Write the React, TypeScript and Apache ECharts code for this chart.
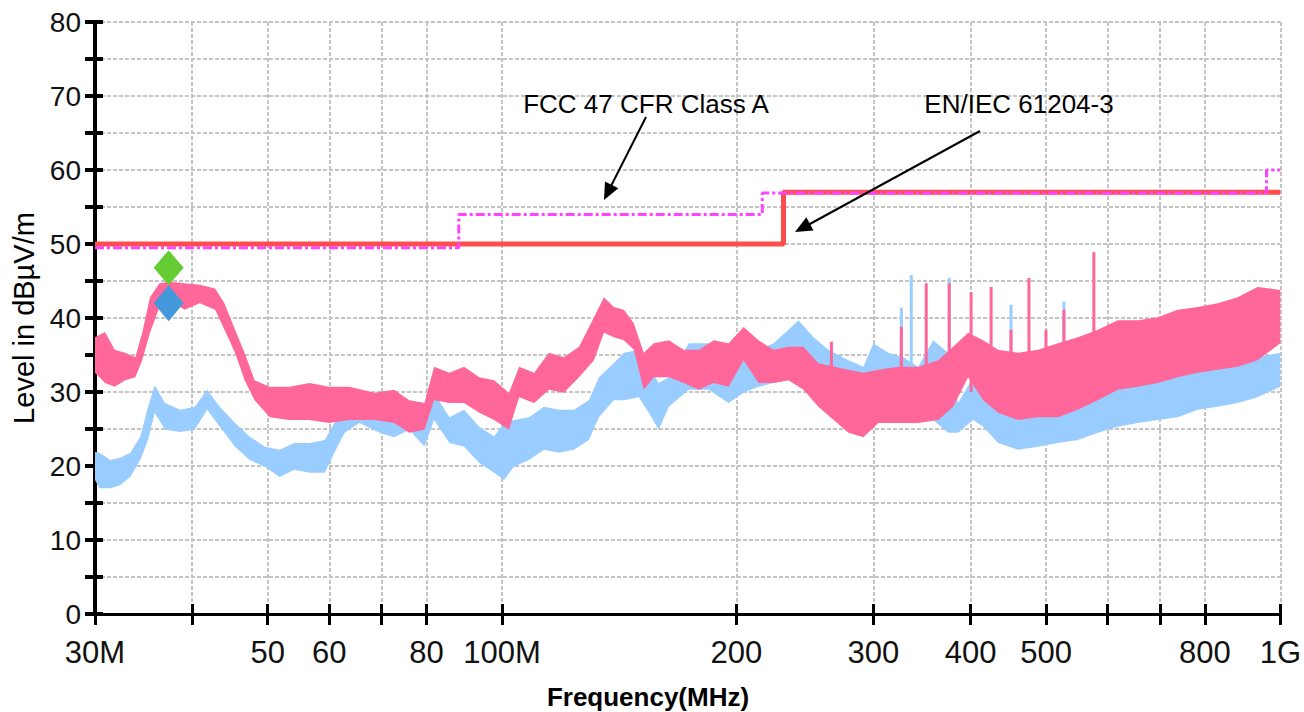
import React, { useEffect, useRef } from "react";
import * as echarts from "echarts";

// ---- axis ticks / labels ----
const xTickValues = [30, 40, 50, 60, 70, 80, 100, 200, 300, 400, 500, 600, 700, 800, 1000];
const xLabelValues = [30, 50, 60, 80, 100, 200, 300, 400, 500, 800, 1000];
const xLabelNames: Record<number, string> = { 30: "30M", 100: "100M", 1000: "1G" };

// ---- limit lines (MHz, dBuV/m) ----
const enFreq = [30, 230, 230, 1000];
const enLevel = [50, 50, 57, 57];
const fccFreq = [30, 88, 88, 216, 216, 960, 960, 1000];
const fccLevel = [49.5, 49.5, 54, 54, 56.9, 56.9, 60, 60];

// ---- pink (horizontal) trace envelope ----
const pinkFreq = [30, 30.9, 31.8, 32.8, 33.8, 34.5, 35.3, 36.3, 37.4, 39.1, 40.9, 42.8, 44.0, 45.4, 46.7, 48.1, 50.3, 53.3, 56.6, 60.0, 63.7, 68.6, 72.7, 76.0, 79.5, 81.8, 85.6, 89.4, 93.5, 97.7, 102.1, 105.2, 110.0, 114.9, 120.1, 125.6, 131.3, 135.2, 139.2, 143.4, 147.7, 152.1, 156.7, 163.8, 171.2, 179.0, 187.1, 195.5, 204.4, 213.6, 223.3, 233.4, 244.0, 255.0, 278.7, 291.3, 304.5, 323.0, 342.6, 363.5, 379.9, 397.1, 415.1, 433.9, 460.3, 488.3, 518.0, 549.4, 582.9, 618.3, 656.0, 695.9, 738.2, 783.1, 830.7, 881.3, 934.9, 1000];
const pinkUpper = [37.4, 38.1, 35.7, 35.3, 34.7, 38.0, 42.8, 44.7, 44.9, 44.7, 44.5, 44.0, 42.0, 38.4, 35.3, 31.6, 30.7, 30.7, 31.2, 30.7, 30.7, 29.9, 30.3, 28.9, 28.5, 33.4, 32.6, 33.4, 32.0, 31.6, 29.9, 33.4, 32.6, 35.3, 34.7, 36.1, 40.1, 42.8, 41.5, 41.1, 39.3, 35.3, 36.6, 37.0, 35.7, 35.7, 37.0, 36.6, 38.8, 37.0, 35.7, 36.1, 36.1, 33.9, 33.0, 32.6, 33.0, 33.4, 33.4, 34.3, 36.1, 38.0, 37.0, 35.7, 35.3, 35.7, 36.6, 37.4, 38.4, 39.7, 39.7, 40.1, 41.1, 41.5, 42.0, 42.8, 44.2, 43.8];
const pinkLower = [32.6, 31.2, 30.7, 31.6, 32.0, 34.3, 38.0, 41.5, 42.4, 41.1, 42.0, 41.1, 38.4, 35.3, 31.6, 28.9, 26.6, 26.2, 26.2, 25.8, 26.2, 26.2, 25.8, 24.5, 24.9, 28.9, 28.5, 28.5, 27.2, 26.2, 24.9, 29.3, 28.5, 30.3, 29.9, 32.0, 34.3, 38.0, 37.4, 37.0, 35.7, 30.3, 32.0, 32.0, 31.2, 30.3, 31.2, 30.7, 34.3, 31.2, 31.2, 31.6, 30.3, 28.0, 24.5, 23.9, 25.8, 25.8, 25.8, 26.2, 28.0, 32.0, 28.9, 27.2, 26.2, 26.6, 26.6, 27.6, 28.9, 30.3, 30.7, 31.2, 32.0, 32.6, 33.0, 33.4, 34.3, 36.6];

// ---- blue (vertical) trace envelope ----
const blueFreq = [30, 30.4, 31.4, 32.3, 33.3, 34.3, 35.1, 35.8, 36.9, 38.6, 40.3, 41.8, 43.4, 45.4, 47.4, 49.6, 51.8, 54.1, 56.6, 59.2, 60.9, 62.8, 65.6, 69.6, 72.7, 76.0, 79.5, 81.8, 85.6, 89.4, 93.5, 97.7, 100.6, 103.6, 108.3, 113.2, 118.4, 123.7, 129.3, 133.2, 139.2, 143.4, 149.9, 154.4, 159.0, 163.8, 173.8, 184.3, 195.5, 204.4, 213.6, 223.3, 233.4, 240.4, 251.3, 262.7, 278.7, 291.3, 300, 313.6, 327.8, 342.6, 358.1, 374.3, 385.6, 403.0, 415.1, 433.9, 460.3, 488.3, 518.0, 549.4, 582.9, 618.3, 656.0, 695.9, 738.2, 783.1, 830.7, 881.3, 934.9, 1000];
const blueUpper = [21.9, 21.8, 20.8, 21.1, 21.8, 24.0, 28.0, 30.9, 28.5, 27.6, 28.0, 30.3, 28.0, 25.8, 24.0, 22.6, 22.2, 23.1, 23.1, 23.5, 25.8, 27.2, 28.5, 29.3, 28.5, 28.9, 28.5, 29.9, 26.6, 27.6, 25.3, 24.0, 25.8, 26.2, 26.6, 28.0, 27.6, 27.6, 28.9, 32.0, 33.9, 35.3, 35.7, 33.4, 31.2, 32.0, 36.6, 36.6, 36.1, 35.7, 35.7, 36.6, 38.4, 39.7, 37.4, 35.7, 34.3, 33.4, 36.6, 35.3, 34.7, 33.4, 37.0, 35.3, 28.5, 32.0, 31.6, 28.0, 26.2, 27.2, 27.2, 28.0, 28.9, 30.7, 31.2, 31.6, 32.6, 33.0, 33.4, 34.3, 34.7, 35.3];
const blueLower = [18.1, 17.0, 17.0, 17.4, 18.5, 20.8, 23.5, 27.2, 24.9, 24.6, 24.9, 27.6, 25.3, 22.6, 20.8, 19.9, 18.5, 19.5, 19.1, 19.1, 21.8, 24.5, 25.8, 24.5, 23.9, 24.9, 22.6, 26.2, 23.1, 22.6, 20.4, 19.1, 18.1, 19.9, 20.8, 22.2, 21.8, 22.2, 23.5, 26.6, 28.9, 28.9, 29.3, 27.2, 24.9, 28.0, 30.3, 30.3, 28.5, 29.9, 30.7, 31.2, 31.6, 33.9, 32.0, 30.3, 29.3, 29.3, 33.0, 31.6, 26.0, 26.2, 26.2, 24.5, 24.5, 26.2, 25.3, 23.1, 22.2, 22.6, 23.1, 23.5, 24.5, 25.3, 25.8, 26.2, 26.6, 27.6, 28.0, 28.5, 29.3, 30.7];

// ---- narrow spikes [MHz, peak dBuV/m] ----
const spikeBase = 30;
const blueSpikes = [[325.9, 41.4], [335.6, 45.8], [375.5, 45.4], [450.8, 41.8], [527.2, 42.2]];
const pinkSpikes = [[265.0, 36.8], [325.9, 38.8], [350.8, 44.7], [375.5, 44.7], [400.6, 43.5], [425.0, 44.2], [450.8, 38.4], [475.4, 45.4], [499.9, 38.4], [527.2, 41.1], [576.0, 48.9]];

// ---- quasi-peak markers ----
const greenMarker = [37.3, 46.8];
const blueMarker = [37.3, 42.0];

const FONT = "'Liberation Sans', Arial, Helvetica, sans-serif";
const NARROW = "'Liberation Sans Narrow', 'Arial Narrow', 'Liberation Sans', sans-serif";

function bandSeries(freq: number[], up: number[], low: number[], color: string, z: number) {
  return {
    type: "custom",
    coordinateSystem: "cartesian2d",
    silent: true,
    z,
    clip: true,
    data: [[freq[0], up[0]]],
    encode: { x: 0, y: 1 },
    renderItem: (_p: any, api: any) => {
      const pts: number[][] = [];
      for (let i = 0; i < freq.length; i++) pts.push(api.coord([freq[i], up[i]]));
      for (let i = freq.length - 1; i >= 0; i--) pts.push(api.coord([freq[i], low[i]]));
      return { type: "polygon", shape: { points: pts }, style: { fill: color } };
    },
  };
}

function spikeSeries(spikes: number[][], color: string, z: number) {
  return {
    type: "custom",
    coordinateSystem: "cartesian2d",
    silent: true,
    z,
    clip: true,
    data: spikes.map((s) => [s[0], spikeBase, s[1]]),
    encode: { x: 0, y: [1, 2] },
    renderItem: (_p: any, api: any) => {
      const a = api.coord([api.value(0), api.value(1)]);
      const b = api.coord([api.value(0), api.value(2)]);
      return {
        type: "line",
        shape: { x1: a[0], y1: a[1], x2: b[0], y2: b[1] },
        style: { stroke: color, lineWidth: 3 },
      };
    },
  };
}

function arrowHead(x1: number, y1: number, x2: number, y2: number) {
  const dx = x2 - x1, dy = y2 - y1;
  const len = Math.sqrt(dx * dx + dy * dy);
  const ux = dx / len, uy = dy / len;
  const L = 17, W = 7.5;
  const bx = x2 - ux * L, by = y2 - uy * L;
  return [
    [x2, y2],
    [bx + uy * W, by - ux * W],
    [bx - uy * W, by + ux * W],
  ];
}

export default function App() {
  const ref = useRef<HTMLDivElement>(null);
  useEffect(() => {
    if (!ref.current) return;
    const chart = echarts.init(ref.current, undefined, { renderer: "svg" });
    const gridColor = "#c4c4c4";
    const option: any = {
      animation: false,
      backgroundColor: "#ffffff",
      grid: { left: 95, right: 21, top: 22, bottom: 98, containLabel: false },
      xAxis: [
        {
          type: "log",
          logBase: 10,
          min: 30,
          max: 1000,
          position: "bottom",
          axisLine: { show: true, lineStyle: { color: "#000", width: 3 } },
          axisTick: { show: true, inside: false, length: 11, customValues: xTickValues, lineStyle: { color: "#000", width: 3 } },
          axisLabel: {
            show: true,
            customValues: xLabelValues,
            margin: 23,
            fontFamily: NARROW,
            fontSize: 31,
            color: "#111",
            formatter: (v: number) => xLabelNames[Math.round(v)] ?? String(Math.round(v)),
          },
          splitLine: { show: true, lineStyle: { color: gridColor, width: 2, type: [4, 2] } },
          minorTick: { show: false },
        },
        {
          type: "log",
          logBase: 10,
          min: 30,
          max: 1000,
          position: "bottom",
          offset: 0,
          axisLine: { show: false },
          axisTick: { show: true, inside: true, length: 10, customValues: xTickValues, lineStyle: { color: "#000", width: 3 } },
          axisLabel: { show: false },
          splitLine: { show: false },
        },
      ],
      yAxis: [
        {
          type: "value",
          min: 0,
          max: 80,
          interval: 5,
          position: "left",
          name: "Level in dBµV/m",
          nameLocation: "middle",
          nameGap: 56,
          nameTextStyle: { fontFamily: FONT, fontSize: 29, color: "#000" },
          axisLine: { show: true, lineStyle: { color: "#000", width: 4 } },
          axisTick: { show: true, inside: false, length: 10, lineStyle: { color: "#000", width: 4 } },
          axisLabel: {
            margin: 14,
            fontFamily: FONT,
            fontSize: 28,
            color: "#111",
            formatter: (v: number) => (v % 10 === 0 ? String(v) : ""),
          },
          splitLine: { show: true, lineStyle: { color: gridColor, width: 2, type: [4, 2] } },
        },
        {
          type: "value",
          min: 0,
          max: 80,
          interval: 5,
          position: "left",
          offset: 0,
          axisLine: { show: false },
          axisTick: { show: true, inside: true, length: 8, lineStyle: { color: "#000", width: 4 } },
          axisLabel: { show: false },
          splitLine: { show: false },
        },
      ],
      series: [
        bandSeries(blueFreq, blueUpper, blueLower, "#99ccff", 2),
        spikeSeries(blueSpikes, "#99ccff", 3),
        bandSeries(pinkFreq, pinkUpper, pinkLower, "#ff6699", 4),
        spikeSeries(pinkSpikes, "#ff6699", 5),
        {
          type: "line",
          name: "EN/IEC 61204-3",
          data: enFreq.map((f, i) => [f, enLevel[i]]),
          showSymbol: false,
          symbol: "none",
          z: 6,
          lineStyle: { color: "#ff4d4d", width: 5 },
        },
        {
          type: "line",
          name: "FCC 47 CFR Class A",
          data: fccFreq.map((f, i) => [f, fccLevel[i]]),
          showSymbol: false,
          symbol: "none",
          z: 7,
          lineStyle: { color: "#ff44ff", width: 3, type: [9, 3, 3, 3] },
        },
        {
          type: "scatter",
          data: [greenMarker],
          symbol: "diamond",
          symbolSize: [30, 35],
          z: 8,
          itemStyle: { color: "#66cc33", opacity: 1 },
        },
        {
          type: "scatter",
          data: [blueMarker],
          symbol: "diamond",
          symbolSize: [30, 36],
          z: 8,
          itemStyle: { color: "#4499dd", opacity: 1 },
        },
      ],
      graphic: [
        {
          type: "text",
          x: 648,
          y: 697,
          z: 20,
          style: { text: "Frequency(MHz)", fontFamily: FONT, fontSize: 26, fontWeight: "bold", fill: "#000", align: "center", verticalAlign: "middle" },
        },
        {
          type: "text",
          x: 646,
          y: 104,
          z: 20,
          style: { text: "FCC 47 CFR Class A", fontFamily: FONT, fontSize: 26, fill: "#000", align: "center", verticalAlign: "middle" },
        },
        {
          type: "text",
          x: 1019,
          y: 104,
          z: 20,
          style: { text: "EN/IEC 61204-3", fontFamily: FONT, fontSize: 26, fill: "#000", align: "center", verticalAlign: "middle" },
        },
        { type: "line", z: 20, shape: { x1: 646, y1: 117, x2: 610, y2: 188 }, style: { stroke: "#000", lineWidth: 2 } },
        { type: "polygon", z: 20, shape: { points: arrowHead(646, 117, 604, 200) }, style: { fill: "#000" } },
        { type: "line", z: 20, shape: { x1: 980, y1: 131, x2: 808, y2: 225 }, style: { stroke: "#000", lineWidth: 2 } },
        { type: "polygon", z: 20, shape: { points: arrowHead(980, 131, 795, 232) }, style: { fill: "#000" } },
      ],
    };
    chart.setOption(option);
    return () => chart.dispose();
  }, []);
  return (
    <div
      ref={ref}
      style={{ position: "absolute", left: 0, top: 0, width: 1304, height: 712, background: "#fff" }}
    />
  );
}
